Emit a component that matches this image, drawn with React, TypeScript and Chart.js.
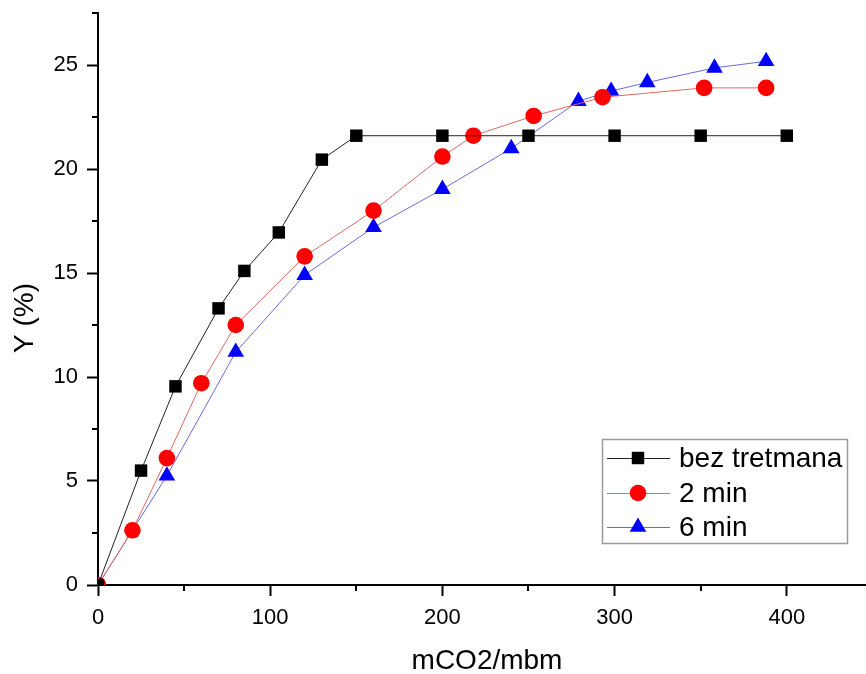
import React, { useEffect, useRef } from 'react';
import { Chart, registerables } from 'chart.js';

Chart.register(...registerables);

const seriesLabels = ['bez tretmana', '2 min', '6 min'];
const xTitle = 'mCO2/mbm';
const yTitle = 'Y (%)';

const xBez = [0, 25, 45, 70, 85, 105, 130, 150, 200, 250, 300, 350, 400];
const yBez = [0, 5.5, 9.55, 13.3, 15.1, 16.95, 20.45, 21.6, 21.6, 21.6, 21.6, 21.6, 21.6];

const x2 = [0, 20, 40, 60, 80, 120, 160, 200, 218, 253, 293, 352, 388];
const y2 = [0, 2.63, 6.1, 9.7, 12.5, 15.8, 18.0, 20.6, 21.6, 22.55, 23.45, 23.9, 23.9];

const x6 = [0, 40, 80, 120, 160, 200, 240, 279, 298, 319, 358, 388];
const y6 = [0, 5.25, 11.2, 14.9, 17.2, 19.03, 20.99, 23.26, 23.75, 24.16, 24.86, 25.18];

const xMajorStep = 100;
const xMinorStep = 50;
const yMajorStep = 5;
const yMinorStep = 2.5;

const FONT = '"Liberation Sans", Arial, Helvetica, sans-serif';

function toPoints(xs: number[], ys: number[]) {
  return xs.map((x, i) => ({ x, y: ys[i] }));
}

function drawMarker(c: CanvasRenderingContext2D, style: string, x: number, y: number, r: number, color: string) {
  c.fillStyle = color;
  c.beginPath();
  if (style === 'rect') {
    const s = Math.SQRT1_2 * r;
    c.rect(x - s, y - s, 2 * s, 2 * s);
  } else if (style === 'circle') {
    c.arc(x, y, r, 0, Math.PI * 2);
  } else if (style === 'triangle') {
    c.moveTo(x, y - r);
    c.lineTo(x + r * Math.sin((2 * Math.PI) / 3), y - r * Math.cos((2 * Math.PI) / 3));
    c.lineTo(x + r * Math.sin((4 * Math.PI) / 3), y - r * Math.cos((4 * Math.PI) / 3));
    c.closePath();
  }
  c.fill();
}

const extras = {
  id: 'extras',
  afterDraw(chart: any) {
    const c: CanvasRenderingContext2D = chart.ctx;
    const xs = chart.scales.x;
    const ys = chart.scales.y;
    const ca = chart.chartArea;
    c.save();
    // minor ticks
    c.strokeStyle = '#000';
    c.lineWidth = 2;
    for (let v = xMinorStep; v <= xs.max; v += xMajorStep) {
      const px = Math.round(xs.getPixelForValue(v));
      c.beginPath();
      c.moveTo(px, ca.bottom);
      c.lineTo(px, ca.bottom + 6);
      c.stroke();
    }
    for (let v = yMinorStep; v <= ys.max; v += yMajorStep) {
      const py = Math.round(ys.getPixelForValue(v));
      c.beginPath();
      c.moveTo(ca.left, py);
      c.lineTo(ca.left - 6, py);
      c.stroke();
    }
    // axis titles
    c.fillStyle = '#000';
    c.font = `28px ${FONT}`;
    c.textAlign = 'center';
    c.textBaseline = 'alphabetic';
    c.fillText(xTitle, 487, 669);
    c.save();
    c.translate(33, 318);
    c.rotate(-Math.PI / 2);
    c.fillText(yTitle, 0, 0);
    c.restore();

    // legend
    const bx = 602, by = 439, bw = 245, bh = 104;
    c.fillStyle = '#fff';
    c.fillRect(bx, by, bw, bh);
    c.strokeStyle = '#9a9a9a';
    c.lineWidth = 1.5;
    c.strokeRect(bx + 0.5, by + 0.5, bw, bh);
    const rows = [458, 493, 527];
    chart.data.datasets.forEach((ds: any, i: number) => {
      const yy = rows[i];
      c.strokeStyle = ds.borderColor;
      c.lineWidth = 1;
      c.beginPath();
      c.moveTo(607, yy + 0.5);
      c.lineTo(670, yy + 0.5);
      c.stroke();
      drawMarker(c, ds.pointStyle, 638, yy, ds.pointRadius, ds.pointBackgroundColor);
      c.fillStyle = '#000';
      c.font = `28px ${FONT}`;
      c.textAlign = 'left';
      c.textBaseline = 'middle';
      c.fillText(ds.label, 679, yy + 1);
    });
    c.restore();
  },
};

function zeroPad(s: any) {
  s.paddingLeft = 0;
  s.paddingRight = 0;
  s.paddingTop = 0;
  s.paddingBottom = 0;
}

export default function App() {
  const ref = useRef<HTMLCanvasElement>(null);
  useEffect(() => {
    document.body.style.margin = '0';
    const canvas = ref.current;
    if (!canvas) return;
    const chart = new Chart(canvas, {
      type: 'line',
      data: {
        datasets: [
          {
            label: seriesLabels[0],
            data: toPoints(xBez, yBez),
            borderColor: '#222222',
            borderWidth: 1,
            pointStyle: 'rect',
            pointRadius: 8.8,
            pointBackgroundColor: '#000000',
            pointBorderWidth: 0,
            pointBorderColor: '#000000',
          },
          {
            label: seriesLabels[1],
            data: toPoints(x2, y2),
            borderColor: '#e06666',
            borderWidth: 1,
            pointStyle: 'circle',
            pointRadius: 8.3,
            pointBackgroundColor: '#ff0000',
            pointBorderWidth: 0,
            pointBorderColor: '#ff0000',
          },
          {
            label: seriesLabels[2],
            data: toPoints(x6, y6),
            borderColor: '#6a6ad8',
            borderWidth: 1,
            pointStyle: 'triangle',
            pointRadius: 9.6,
            pointBackgroundColor: '#0000ff',
            pointBorderWidth: 0,
            pointBorderColor: '#0000ff',
          },
        ] as any,
      },
      options: {
        animation: false,
        responsive: false,
        parsing: false as any,
        layout: { autoPadding: false, padding: { top: 13, right: 0, left: 0, bottom: 0 } },
        plugins: {
          legend: { display: false },
          tooltip: { enabled: false },
        },
        scales: {
          x: {
            type: 'linear',
            min: 0,
            max: 446,
            afterFit: (s: any) => {
              s.height = 89;
              zeroPad(s);
            },
            border: { display: true, color: '#000', width: 2 },
            grid: {
              drawOnChartArea: false,
              drawTicks: true,
              tickLength: 11,
              tickWidth: 2,
              tickColor: '#000',
            },
            ticks: {
              stepSize: xMajorStep,
              includeBounds: false,
              autoSkip: false,
              maxRotation: 0,
              padding: 9,
              color: '#000',
              font: { size: 22, family: FONT },
            },
          },
          y: {
            type: 'linear',
            min: 0,
            max: 27.5,
            afterFit: (s: any) => {
              s.width = 98;
              zeroPad(s);
            },
            border: { display: true, color: '#000', width: 2 },
            grid: {
              drawOnChartArea: false,
              drawTicks: true,
              tickLength: 11,
              tickWidth: 2,
              tickColor: '#000',
            },
            ticks: {
              stepSize: yMajorStep,
              includeBounds: false,
              autoSkip: false,
              padding: 9,
              color: '#000',
              font: { size: 22, family: FONT },
            },
          },
        },
      } as any,
      plugins: [extras],
    });
    return () => chart.destroy();
  }, []);
  return <canvas ref={ref} width={866} height={674} style={{ display: 'block' }} />;
}
